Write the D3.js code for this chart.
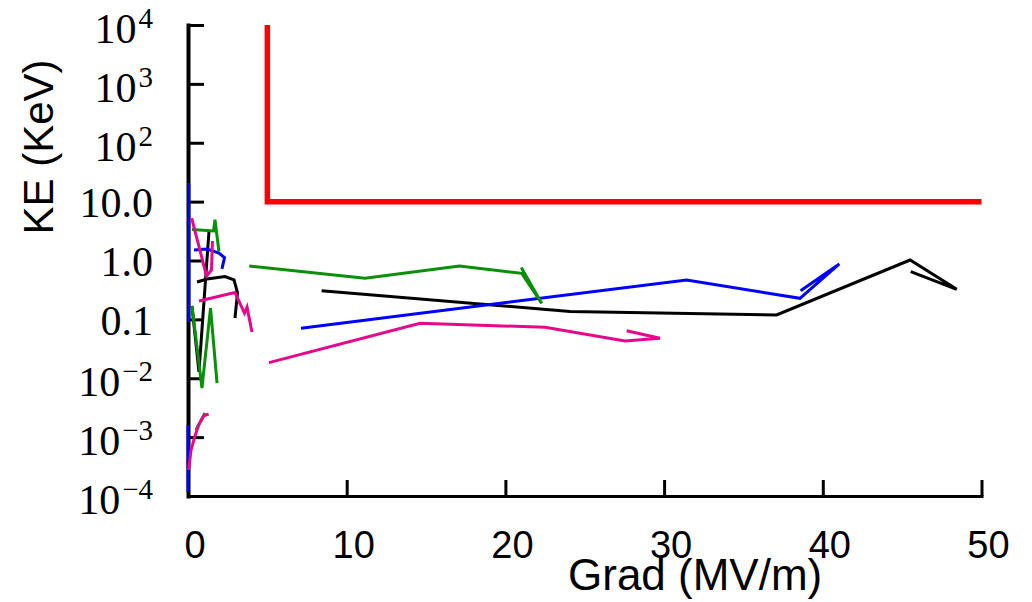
<!DOCTYPE html>
<html>
<head>
<meta charset="utf-8">
<script src="https://cdnjs.cloudflare.com/ajax/libs/d3/7.8.5/d3.min.js"></script>
<style>
  body { margin: 0; background: #fff; }
</style>
</head>
<body>
<div id="chart"></div>
<script>
// ticks and their labels
const xTicks = [0, 10, 20, 30, 40, 50];
const yTicks = [1e-4, 1e-3, 1e-2, 0.1, 1, 10, 1e2, 1e3, 1e4];
const yTickLabels = ["10^\u22124", "10^\u22123", "10^\u22122", "0.1", "1.0", "10.0", "10^2", "10^3", "10^4"];

// traces as [grad, ke] pairs
const redLimit = [[5, 1e4], [5, 10], [50, 10]];

const blackMain = [[8.42, 0.307], [24.07, 0.136], [37.09, 0.119], [45.5, 1.02], [48.44, 0.324], [45.54, 0.645]];
const blackNearA = [[0.25, 0.169], [0.69, 0.0128], [1.32, 3.05]];
const blackNearB = [[0.57, 0.431], [1.2, 0.485], [2.33, 0.535], [2.9, 0.467], [3.12, 0.281], [2.96, 0.105]];

const blueMain = [[7.12, 0.0705], [31.42, 0.467], [38.56, 0.228], [41.04, 0.873], [38.6, 0.307]];
const blueNearTop = [[0.05, 20.7], [0.05, 0.09]];
const blueNearHook = [[0.38, 1.51], [1.2, 1.57], [1.95, 1.34], [2.3, 1.12], [2.14, 0.72]];
const blueNearLow = [[0, 0.0016], [0, 1.17e-4]];

const greenMain = [[3.86, 0.807], [11.15, 0.5], [17.1, 0.807], [21.03, 0.606], [22.29, 0.187], [21.0, 0.76]];
const greenNearTop = [[0.25, 3.36], [1.61, 3.17], [1.7, 4.93], [1.95, 1.42]];
const greenNearMid = [[0.25, 0.169], [0.88, 0.00683], [1.42, 0.156], [1.83, 0.0083]];
const greenNearLow = [[0.5, 1.32e-3], [1.07, 2.57e-3]];

const pinkMain = [[5.1, 0.0184], [14.62, 0.0858], [22.5, 0.0733], [27.54, 0.0429], [29.74, 0.0477], [27.64, 0.0642]];
const pinkNearTop = [[0.23, 5.27], [1.17, 0.545], [1.48, 0.69], [1.54, 2.14]];
const pinkNearMid = [[0.69, 0.205], [2.96, 0.286], [3.56, 0.128], [3.72, 0.162], [4.03, 0.061]];
const pinkNearLow = [[0.04, 2.77e-4], [0.19, 6.04e-4], [0.46, 1.09e-3], [0.67, 1.6e-3], [0.99, 2.29e-3], [1.3, 2.47e-3]];

const BLACK = "#000000", BLUE = "#0000ff", GREEN = "#0a8f0a", PINK = "#e8078b", RED = "#ff0000";

// draw order matters: later ones sit on top
const traces = [
	{pts: blackMain, color: BLACK, w: 3},
	{pts: blackNearA, color: BLACK, w: 3},
	{pts: blackNearB, color: BLACK, w: 3},
	{pts: blueMain, color: BLUE, w: 3},
	{pts: blueNearTop, color: BLUE, w: 3},
	{pts: blueNearHook, color: BLUE, w: 3},
	{pts: blueNearLow, color: BLUE, w: 3},
	{pts: greenMain, color: GREEN, w: 3},
	{pts: greenNearTop, color: GREEN, w: 3},
	{pts: greenNearMid, color: GREEN, w: 3},
	{pts: greenNearLow, color: GREEN, w: 3},
	{pts: pinkMain, color: PINK, w: 3},
	{pts: pinkNearTop, color: PINK, w: 3},
	{pts: pinkNearMid, color: PINK, w: 3},
	{pts: pinkNearLow, color: PINK, w: 3},
	{pts: redLimit, color: RED, w: 5.5}
];

const width = 1032, height = 602;
const plotLeft = 188, plotRight = 981.5, plotTop = 25, plotBottom = 496;

const svg = d3.select("#chart")
	.append("svg")
	.attr("width", width)
	.attr("height", height);

const x = d3.scaleLinear().domain([0, 50]).range([plotLeft, plotRight]);
const y = d3.scaleLog().domain([1e-4, 1e4]).range([plotBottom, plotTop]);

// bottom axis, ticks point inward
svg.append("g")
	.attr("transform", `translate(0,${plotBottom})`)
	.call(d3.axisBottom(x).tickValues(xTicks).tickSize(-16).tickSizeOuter(0).tickFormat(""))
	.call(g => {
		g.select(".domain").attr("stroke-width", 3).attr("stroke-linecap", "square");
		g.selectAll(".tick line").attr("stroke-width", 3);
	});

// left axis
svg.append("g")
	.attr("transform", `translate(${plotLeft},0)`)
	.call(d3.axisLeft(y).tickValues(yTicks).tickSize(-16).tickSizeOuter(0).tickFormat(""))
	.call(g => {
		g.select(".domain").attr("stroke-width", 4).attr("stroke-linecap", "square");
		g.selectAll(".tick line").attr("stroke-width", 3);
	});

// x tick labels (sans)
svg.append("g")
	.selectAll("text")
	.data(xTicks)
	.enter()
	.append("text")
	.attr("x", d => x(d) + 7)
	.attr("y", 558)
	.attr("text-anchor", "middle")
	.style("font-family", "'Liberation Sans', Arial, sans-serif")
	.style("font-size", "38px")
	.text(d => d);

// y tick labels (serif, powers get a raised exponent)
const yLab = svg.append("g")
	.selectAll("text")
	.data(yTicks)
	.enter()
	.append("text")
	.attr("x", 153)
	.attr("text-anchor", "end")
	.style("font-family", "'Liberation Serif', 'Times New Roman', serif")
	.style("font-size", "42px");

yLab.each(function(d, i) {
	const t = d3.select(this);
	const parts = yTickLabels[i].split("^");
	if (parts.length == 2) {
		t.attr("y", y(d) + 18);
		t.append("tspan").text(parts[0]);
		t.append("tspan")
			.attr("dx", 2)
			.attr("dy", -15)
			.style("font-size", "29px")
			.text(parts[1]);
	} else {
		t.attr("y", y(d) + 15.5).text(parts[0]);
	}
});

// axis titles
svg.append("text")
	.attr("x", 568)
	.attr("y", 590)
	.style("font-family", "'Liberation Sans', Arial, sans-serif")
	.style("font-size", "44px")
	.text("Grad (MV/m)");

svg.append("text")
	.attr("transform", "translate(53,147) rotate(-90)")
	.attr("text-anchor", "middle")
	.style("font-family", "'Liberation Sans', Arial, sans-serif")
	.style("font-size", "42px")
	.text("KE (KeV)");

// the traces
const line = d3.line()
	.x(d => x(d[0]))
	.y(d => y(d[1]));

svg.append("g")
	.selectAll("path")
	.data(traces)
	.enter()
	.append("path")
	.attr("d", d => line(d.pts))
	.attr("fill", "none")
	.attr("stroke", d => d.color)
	.attr("stroke-width", d => d.w);
</script>
</body>
</html>
